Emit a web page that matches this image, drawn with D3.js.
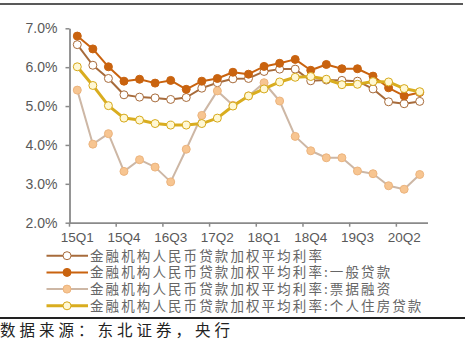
<!DOCTYPE html>
<html>
<head>
<meta charset="utf-8">
<script src="https://cdn.jsdelivr.net/npm/d3@7/dist/d3.min.js"></script>
<style>
  html, body { margin: 0; padding: 0; background: #fff; }
  svg { display: block; }
</style>
</head>
<body>
<svg id="chart" width="468" height="341"></svg>
<script>
// Quarterly categories, 2015Q1 – 2020Q3
const quarters = [
  "15Q1","15Q2","15Q3","15Q4","16Q1","16Q2","16Q3","16Q4",
  "17Q1","17Q2","17Q3","17Q4","18Q1","18Q2","18Q3","18Q4",
  "19Q1","19Q2","19Q3","19Q4","20Q1","20Q2","20Q3"
];

// Weighted average lending rates (%)
const weightedAll = [6.58, 6.05, 5.71, 5.29, 5.23, 5.21, 5.17, 5.22, 5.46, 5.60, 5.70, 5.71,
                     5.89, 5.95, 5.95, 5.65, 5.67, 5.66, 5.64, 5.44, 5.11, 5.06, 5.12];
const generalLoans = [6.80, 6.47, 6.01, 5.64, 5.69, 5.59, 5.66, 5.43, 5.64, 5.71, 5.87, 5.82,
                      6.02, 6.10, 6.20, 5.92, 6.07, 5.96, 5.96, 5.77, 5.47, 5.26, 5.35];
const billFinancing = [5.41, 4.02, 4.29, 3.32, 3.62, 3.43, 3.05, 3.89, 4.76, 5.39, 5.02, 5.26,
                       5.60, 5.13, 4.22, 3.85, 3.67, 3.67, 3.33, 3.26, 2.95, 2.86, 3.24];
const mortgage = [6.01, 5.53, 5.01, 4.69, 4.64, 4.55, 4.51, 4.51, 4.55, 4.69, 5.00, 5.26,
                  5.44, 5.62, 5.74, 5.76, 5.69, 5.55, 5.56, 5.63, 5.62, 5.45, 5.37];

const seriesNames = [
  "金融机构人民币贷款加权平均利率",
  "金融机构人民币贷款加权平均利率:一般贷款",
  "金融机构人民币贷款加权平均利率:票据融资",
  "金融机构人民币贷款加权平均利率:个人住房贷款"
];

const yTicks = [2, 3, 4, 5, 6, 7];
const xTickLabels = ["15Q1","15Q4","16Q3","17Q2","18Q1","18Q4","19Q3","20Q2"];
const sourceText = "数据来源：东北证券，央行";

const series = [
  { name: seriesNames[0], values: weightedAll,   line: "#a76b3b", width: 2,   fill: "#ffffff", stroke: "#a76b3b" },
  { name: seriesNames[1], values: generalLoans,  line: "#c9630f", width: 2,   fill: "#c9630f", stroke: "#c9630f" },
  { name: seriesNames[2], values: billFinancing, line: "#cdb7a5", width: 2,   fill: "#f7c591", stroke: "#ecb47e" },
  { name: seriesNames[3], values: mortgage,      line: "#d9ad1f", width: 3,   fill: "#fff8d4", stroke: "#d6a91a" }
];

const svg = d3.select("#chart");
const axisColor = "#8a8a8a";
const labelColor = "#595959";

const x = d3.scaleBand().domain(quarters).range([69.5, 427.5]).paddingInner(0).paddingOuter(0);
const y = d3.scaleLinear().domain([2, 7]).range([222.7, 28.3]);
const cx = d => x(d) + x.bandwidth() / 2;

// frame rules
svg.append("line").attr("x1", 0).attr("x2", 463).attr("y1", 4).attr("y2", 4)
  .attr("stroke", "#222").attr("stroke-width", 1.5);
svg.append("line").attr("x1", 0).attr("x2", 465).attr("y1", 318).attr("y2", 318)
  .attr("stroke", "#222").attr("stroke-width", 2);

// y axis
const yAxis = svg.append("g").attr("transform", "translate(69.5,0)")
  .call(d3.axisLeft(y).tickValues(yTicks).tickSize(4).tickSizeOuter(0)
    .tickFormat(d => d.toFixed(1) + "%"));
yAxis.select(".domain").attr("stroke", axisColor).attr("stroke-width", 1.8);
yAxis.selectAll(".tick line").attr("stroke", axisColor).attr("stroke-width", 1.5);
yAxis.selectAll(".tick text").attr("fill", labelColor)
  .attr("font-family", "Liberation Sans, Arial, sans-serif").attr("font-size", 14)
  .attr("x", -12);

// x axis: ticks at band edges, labels at band centres
const xTickCats = quarters.filter((q, i) => i % 3 === 0);
const xAxis = svg.append("g").attr("transform", "translate(0,222.7)")
  .call(d3.axisBottom(x).tickValues(xTickCats).tickSize(4).tickSizeOuter(0)
    .tickFormat((d) => xTickLabels[xTickCats.indexOf(d)]));
xAxis.select(".domain").attr("stroke", axisColor).attr("stroke-width", 1.8);
xAxis.selectAll(".tick line").attr("stroke", axisColor).attr("stroke-width", 1.5)
  .attr("transform", `translate(${-x.bandwidth() / 2},0)`);
xAxis.selectAll(".tick text").attr("fill", labelColor)
  .attr("font-family", "Liberation Sans, Arial, sans-serif").attr("font-size", 13.5)
  .attr("y", 10);

// series lines and markers
const line = d3.line().x((d, i) => cx(quarters[i])).y(d => y(d));
series.forEach(s => {
  const g = svg.append("g");
  g.append("path").datum(s.values).attr("d", line)
    .attr("fill", "none").attr("stroke", s.line).attr("stroke-width", s.width)
    .attr("stroke-linejoin", "round");
  g.selectAll("circle").data(s.values).join("circle")
    .attr("cx", (d, i) => cx(quarters[i])).attr("cy", d => y(d)).attr("r", 4)
    .attr("fill", s.fill).attr("stroke", s.stroke).attr("stroke-width", 1);
});

// legend
const legend = svg.append("g");
const rowY = [255.7, 272.4, 289.1, 305.8];
series.forEach((s, i) => {
  const row = legend.append("g").attr("transform", `translate(0,${rowY[i]})`);
  row.append("line").attr("x1", 46.5).attr("x2", 88).attr("y1", 0).attr("y2", 0)
    .attr("stroke", s.line).attr("stroke-width", s.width);
  row.append("circle").attr("cx", 67).attr("cy", 0).attr("r", 4)
    .attr("fill", s.fill).attr("stroke", s.stroke).attr("stroke-width", 1);
  row.append("text").attr("x", 90).attr("y", 0).attr("dy", "0.36em")
    .attr("font-family", "Noto Sans CJK SC, sans-serif").attr("font-size", 13.5)
    .attr("letter-spacing", 2.1).attr("fill", "#666").text(s.name);
});

// source note
svg.append("text").attr("x", 0).attr("y", 330.5).attr("dy", "0.36em")
  .attr("font-family", "Noto Sans CJK SC, sans-serif").attr("font-size", 15.5)
  .attr("letter-spacing", 4).attr("fill", "#222").text(sourceText);
</script>
</body>
</html>
